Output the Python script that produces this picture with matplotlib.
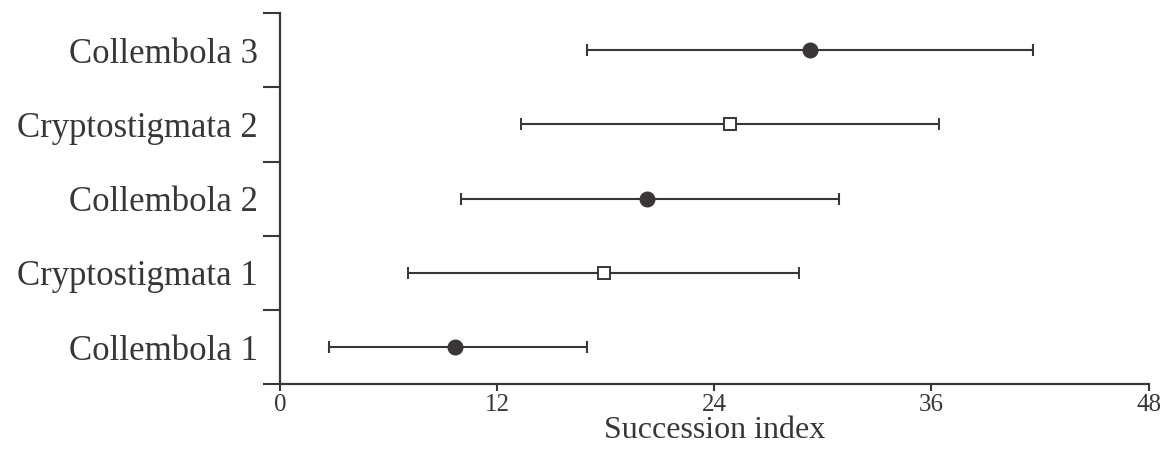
import matplotlib.pyplot as plt
import numpy as np

# Datos (indice de sucesion)
grupos = ['Collembola 1', 'Cryptostigmata 1', 'Collembola 2', 'Cryptostigmata 2', 'Collembola 3']
media = [9.7, 17.9, 20.3, 24.9, 29.3]
inferior = [2.7, 7.1, 10.0, 13.3, 17.0]
superior = [17.0, 28.7, 30.9, 36.4, 41.6]
relleno = [True, False, True, False, True]

color = '#3a3538'
plt.rcParams['font.family'] = 'Liberation Serif'

fig = plt.figure(figsize=(11.66, 4.51), dpi=100)
ax = fig.add_axes([0.240, 0.148, 0.745, 0.823])

pos = np.arange(len(grupos)) + 0.5
for i in range(len(grupos)):
    err = [[media[i] - inferior[i]], [superior[i] - media[i]]]
    if relleno[i]:
        ax.errorbar(media[i], pos[i], xerr=err, fmt='o', color=color, ecolor=color,
                    elinewidth=1.5, capsize=4.5, capthick=1.5, markersize=10.5,
                    markerfacecolor=color, markeredgecolor=color)
    else:
        ax.errorbar(media[i], pos[i], xerr=err, fmt='s', color=color, ecolor=color,
                    elinewidth=1.5, capsize=4.5, capthick=1.5, markersize=9,
                    markerfacecolor='white', markeredgecolor=color, markeredgewidth=1.4)

ax.set_xlim(0, 48)
ax.set_ylim(0, 5)
ax.set_xticks([0, 12, 24, 36, 48])
ax.set_yticks(np.arange(0, 6))
ax.set_yticklabels([])
ax.set_yticks(pos, minor=True)
ax.set_yticklabels(grupos, minor=True, fontsize=25, color=color)
ax.tick_params(axis='y', which='major', length=12, width=1.5, color=color)
ax.tick_params(axis='y', which='minor', length=0, pad=16)
ax.tick_params(axis='x', length=5, width=1.5, color=color, labelsize=18, labelcolor=color, pad=2)

for s in ['top', 'right']:
    ax.spines[s].set_visible(False)
for s in ['left', 'bottom']:
    ax.spines[s].set_color(color)
    ax.spines[s].set_linewidth(1.6)

ax.set_xlabel('Succession index', fontsize=23, color=color, labelpad=0)

plt.savefig('out.png', dpi=100)
plt.close('all')
